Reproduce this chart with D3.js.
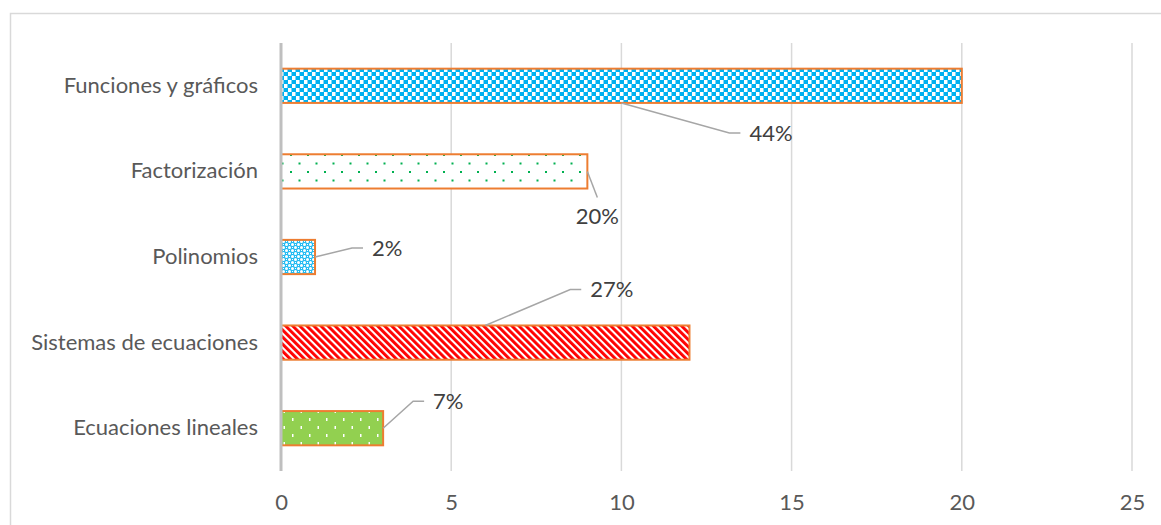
<!DOCTYPE html>
<html>
<head>
<meta charset="utf-8">
<script src="https://cdn.jsdelivr.net/npm/d3@7"></script>
<style>
  html, body { margin: 0; padding: 0; background: #fff; }
  svg { display: block; font-family: Lato, "Liberation Sans", sans-serif; }
</style>
</head>
<body>
<svg id="chart" width="1161" height="525"></svg>
<script>
// Topics (top to bottom) and number of responses for each
const categories = ["Funciones y gráficos", "Factorización", "Polinomios", "Sistemas de ecuaciones", "Ecuaciones lineales"];
const values = [20, 9, 1, 12, 3];
const xTicks = [0, 5, 10, 15, 20, 25];
const patternIds = ["checker", "greenDots", "blueWeave", "redStripes", "greenDashes"];

// Data-label placement: offset of the label from its leader anchor (px),
// and where on the bar the leader starts
const labelDx = [128, 10, 57, 105, 50];
const labelDy = [30, 45, -9, -36, -27];
const anchorAt = ["bottomMid", "end", "end", "topMid", "end"];

const total = d3.sum(values);
const W = 1161, H = 525;
const plot = { left: 281, right: 1132, top: 43, bottom: 471 };

const svg = d3.select("#chart");

// Fill patterns
const defs = svg.append("defs");

const pChk = defs.append("pattern").attr("id", "checker").attr("patternUnits", "userSpaceOnUse")
  .attr("width", 8).attr("height", 8);
pChk.append("rect").attr("width", 8).attr("height", 8).attr("fill", "#00B0F0");
pChk.append("rect").attr("x", 0).attr("y", 0).attr("width", 4).attr("height", 4).attr("fill", "#ffffff");
pChk.append("rect").attr("x", 4).attr("y", 4).attr("width", 4).attr("height", 4).attr("fill", "#ffffff");
pChk.append("rect").attr("x", 3).attr("y", 0).attr("width", 1).attr("height", 4).attr("fill", "#7fd7f7");
pChk.append("rect").attr("x", 7).attr("y", 4).attr("width", 1).attr("height", 4).attr("fill", "#7fd7f7");

const pGD = defs.append("pattern").attr("id", "greenDots").attr("patternUnits", "userSpaceOnUse")
  .attr("width", 17).attr("height", 17).attr("x", 1).attr("y", 1);
pGD.append("rect").attr("width", 17).attr("height", 17).attr("fill", "#ffffff");
pGD.append("rect").attr("x", 0).attr("y", 0).attr("width", 2).attr("height", 2).attr("fill", "#00B050");
pGD.append("rect").attr("x", 8.5).attr("y", 8.5).attr("width", 2).attr("height", 2).attr("fill", "#00B050");

const pBW = defs.append("pattern").attr("id", "blueWeave").attr("patternUnits", "userSpaceOnUse")
  .attr("width", 6).attr("height", 6);
pBW.append("rect").attr("width", 6).attr("height", 6).attr("fill", "#22BBF2");
pBW.append("circle").attr("cx", 1.5).attr("cy", 1.5).attr("r", 1.5).attr("fill", "#ffffff");
pBW.append("circle").attr("cx", 4.5).attr("cy", 4.5).attr("r", 1.5).attr("fill", "#ffffff");
pBW.append("rect").attr("x", 4).attr("y", 1).attr("width", 1).attr("height", 1).attr("fill", "#ffffff");
pBW.append("rect").attr("x", 1).attr("y", 4).attr("width", 1).attr("height", 1).attr("fill", "#ffffff");

const pRS = defs.append("pattern").attr("id", "redStripes").attr("patternUnits", "userSpaceOnUse")
  .attr("width", 5).attr("height", 10).attr("patternTransform", "rotate(-45)");
pRS.append("rect").attr("width", 5).attr("height", 10).attr("fill", "#ffffff");
pRS.append("rect").attr("width", 2.9).attr("height", 10).attr("fill", "#FF0000");

const pGL = defs.append("pattern").attr("id", "greenDashes").attr("patternUnits", "userSpaceOnUse")
  .attr("width", 17).attr("height", 16).attr("x", 3).attr("y", 2);
pGL.append("rect").attr("width", 17).attr("height", 16).attr("fill", "#92D050");
pGL.append("rect").attr("x", 0).attr("y", 0).attr("width", 1.5).attr("height", 3).attr("fill", "#ffffff");
pGL.append("rect").attr("x", 8.5).attr("y", 8).attr("width", 1.5).attr("height", 3).attr("fill", "#ffffff");

// Chart area border
svg.append("rect")
  .attr("x", 10.5).attr("y", 13.5).attr("width", W + 40).attr("height", H + 40)
  .attr("fill", "none").attr("stroke", "#D9D9D9").attr("stroke-width", 1.5);

// Scales
const x = d3.scaleLinear().domain([0, 25]).range([plot.left, plot.right]);
const y = d3.scaleBand().domain(categories).range([plot.top, plot.bottom])
  .paddingInner(0.6).paddingOuter(0.3);

// Vertical gridlines
svg.append("g")
  .selectAll("line")
  .data(xTicks.filter(t => t > 0))
  .join("line")
  .attr("x1", d => x(d)).attr("x2", d => x(d))
  .attr("y1", plot.top).attr("y2", plot.bottom)
  .attr("stroke", "#D9D9D9").attr("stroke-width", 1.5);

// X tick labels
const xAxis = d3.axisBottom(x).tickValues(xTicks).tickSize(0).tickPadding(0).tickFormat(d3.format("d"));
const gx = svg.append("g").attr("transform", `translate(0,${plot.bottom + 23})`).call(xAxis);
gx.select(".domain").remove();
gx.selectAll("text")
  .attr("dy", "0.71em")
  .attr("fill", "#595959")
  .style("font-size", "22px")
  .style("font-family", "Lato, sans-serif");

// Y category labels
const yAxis = d3.axisLeft(y).tickSize(0).tickPadding(0);
const gy = svg.append("g").attr("transform", `translate(${plot.left - 23},0)`).call(yAxis);
gy.select(".domain").remove();
gy.selectAll("text")
  .attr("fill", "#595959")
  .style("font-size", "22px")
  .style("font-family", "Lato, sans-serif");

// Bars
svg.append("g")
  .selectAll("rect")
  .data(categories)
  .join("rect")
  .attr("x", x(0))
  .attr("y", d => y(d))
  .attr("width", (d, i) => x(values[i]) - x(0))
  .attr("height", y.bandwidth())
  .attr("fill", (d, i) => `url(#${patternIds[i]})`)
  .attr("stroke", "#ED7D31")
  .attr("stroke-width", 2);

// Vertical axis line
svg.append("line")
  .attr("x1", x(0)).attr("x2", x(0))
  .attr("y1", plot.top).attr("y2", plot.bottom)
  .attr("stroke", "#BFBFBF").attr("stroke-width", 3);

// Data labels with leader lines
const fmtPct = v => Math.round(v / total * 100) + "%";
const lbl = svg.append("g");
categories.forEach((c, i) => {
  const v = values[i];
  let ax, ay;
  if (anchorAt[i] === "bottomMid") { ax = x(v / 2); ay = y(c) + y.bandwidth(); }
  else if (anchorAt[i] === "topMid") { ax = x(v / 2); ay = y(c); }
  else { ax = x(v); ay = y(c) + y.bandwidth() / 2; }
  const lx = ax + labelDx[i], ly = ay + labelDy[i];
  let pts, anchor;
  if (anchorAt[i] === "end" && labelDy[i] > 20) {
    // label sits below the bar end: leader goes to its top centre
    pts = [[ax, ay], [lx, ly - 19]];
    anchor = "middle";
  } else {
    pts = [[ax, ay], [lx - 20, ly], [lx - 9, ly]];
    anchor = "start";
  }
  lbl.append("path")
    .attr("d", d3.line()(pts))
    .attr("fill", "none").attr("stroke", "#A6A6A6").attr("stroke-width", 1.5);
  lbl.append("text")
    .attr("x", lx).attr("y", ly).attr("dy", "0.35em")
    .attr("text-anchor", anchor)
    .attr("fill", "#404040")
    .style("font-size", "22px")
    .text(fmtPct(v));
});
</script>
</body>
</html>
